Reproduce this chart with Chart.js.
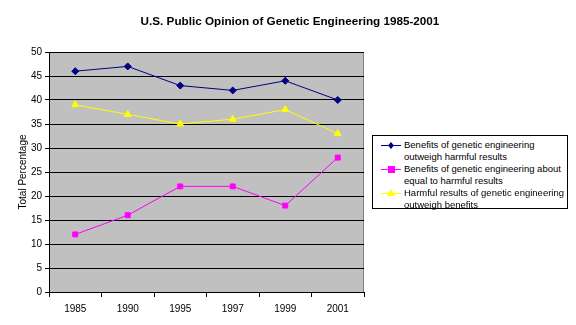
<!DOCTYPE html>
<html>
<head>
  <title>U.S. Public Opinion of Genetic Engineering 1985-2001</title>
  <script src="https://cdn.jsdelivr.net/npm/chart.js"></script>
  <style>
    body { margin: 0; background: #fff; font-family: Arial, "Liberation Sans", sans-serif; }
    .wrap { position: relative; width: 576px; height: 325px; }
    .title { position: absolute; left: 2px; width: 576px; top: 14px; text-align: center; font-size: 11.7px; font-weight: bold; }
    .legend { position: absolute; left: 372px; top: 135px; width: 196px; height: 74px; border: 1px solid #000; background: #fff; box-sizing: border-box; }
    .legend .item { position: absolute; left: 0; font-size: 9.5px; line-height: 12px; }
    .legend canvas { position: absolute; left: 6px; top: 0; }
    .legend span { position: absolute; left: 31px; top: 0; white-space: nowrap; }
  </style>
</head>
<body>
  <div class="wrap">
    <canvas id="opinionChart" width="576" height="325"></canvas>
    <div class="title">U.S. Public Opinion of Genetic Engineering 1985-2001</div>
    <div class="legend" id="legend"></div>
  </div>
  <script>
    // survey years and percentages
    const years = ['1985', '1990', '1995', '1997', '1999', '2001'];
    const benefitsOutweigh = [46, 47, 43, 42, 44, 40];
    const aboutEqual = [12, 16, 22, 22, 18, 28];
    const harmfulOutweigh = [39, 37, 35, 36, 38, 33];
    const seriesNames = [
      ['Benefits of genetic engineering', 'outweigh harmful results'],
      ['Benefits of genetic engineering about', 'equal to harmful results'],
      ['Harmful results of genetic engineering', 'outweigh benefits']
    ];
    const seriesColors = ['#000080', '#FF00FF', '#FFFF00'];
    const seriesPoints = ['rectRot', 'rect', 'triangle'];
    const seriesSizes = [3.5, 3.5, 4];

    // grey plot area with a thin grey frame
    const plotBackground = {
      id: 'plotBackground',
      beforeDraw(chart) {
        const { ctx, chartArea: a } = chart;
        ctx.save();
        ctx.fillStyle = '#C0C0C0';
        ctx.fillRect(a.left, a.top, a.right - a.left, a.bottom - a.top);
        ctx.strokeStyle = '#808080';
        ctx.lineWidth = 1;
        ctx.beginPath();
        ctx.moveTo(a.left, a.top + 0.5);
        ctx.lineTo(a.right - 0.5, a.top + 0.5);
        ctx.lineTo(a.right - 0.5, a.bottom);
        ctx.stroke();
        ctx.restore();
      }
    };

    const datasets = [benefitsOutweigh, aboutEqual, harmfulOutweigh].map((data, i) => ({
      label: seriesNames[i].join(' '),
      data: data,
      borderColor: seriesColors[i],
      backgroundColor: seriesColors[i],
      borderWidth: 1,
      pointStyle: seriesPoints[i],
      pointRadius: seriesSizes[i],
      pointHoverRadius: seriesSizes[i],
      tension: 0
    }));

    new Chart(document.getElementById('opinionChart'), {
      type: 'line',
      data: { labels: years, datasets: datasets },
      plugins: [plotBackground],
      options: {
        responsive: false,
        animation: false,
        layout: { padding: { left: 0, top: 52, right: 212, bottom: 0 } },
        plugins: { legend: { display: false }, tooltip: { enabled: false } },
        scales: {
          x: {
            offset: true,
            afterFit(scale) { scale.height = 33; },
            grid: { drawOnChartArea: false, drawTicks: true, tickLength: 5, color: '#000', offset: true },
            border: { color: '#000', width: 1 },
            ticks: { color: '#000', font: { family: 'Arial', size: 10 }, padding: 6, maxRotation: 0 }
          },
          y: {
            min: 0,
            max: 50,
            afterFit(scale) { scale.width = 49; },
            grid: { color: '#000', tickLength: 4, lineWidth: 1 },
            border: { color: '#000', width: 1 },
            ticks: { stepSize: 5, color: '#000', font: { family: 'Arial', size: 10 }, padding: 3 },
            title: {
              display: true,
              text: 'Total Percentage',
              color: '#000',
              font: { family: 'Arial', size: 10 },
              padding: { top: 17, bottom: 0 }
            }
          }
        }
      }
    });

    // legend box: short line with marker, two lines of text per series
    const legend = document.getElementById('legend');
    seriesNames.forEach((lines, i) => {
      const item = document.createElement('div');
      item.className = 'item';
      item.style.top = (3 + i * 24) + 'px';
      const c = document.createElement('canvas');
      c.width = 24; c.height = 12;
      const g = c.getContext('2d');
      g.strokeStyle = seriesColors[i];
      g.fillStyle = seriesColors[i];
      g.lineWidth = 1;
      g.beginPath(); g.moveTo(2, 6.5); g.lineTo(22, 6.5); g.stroke();
      g.beginPath();
      if (seriesPoints[i] === 'rect') {
        g.rect(9, 3, 7, 7);
      } else if (seriesPoints[i] === 'triangle') {
        g.moveTo(12, 2); g.lineTo(16, 9); g.lineTo(8, 9); g.closePath();
      } else {
        g.moveTo(12, 3); g.lineTo(15, 6.5); g.lineTo(12, 10); g.lineTo(9, 6.5); g.closePath();
      }
      g.fill();
      item.appendChild(c);
      const t = document.createElement('span');
      t.innerHTML = lines.join('<br>');
      item.appendChild(t);
      legend.appendChild(item);
    });
  </script>
</body>
</html>
